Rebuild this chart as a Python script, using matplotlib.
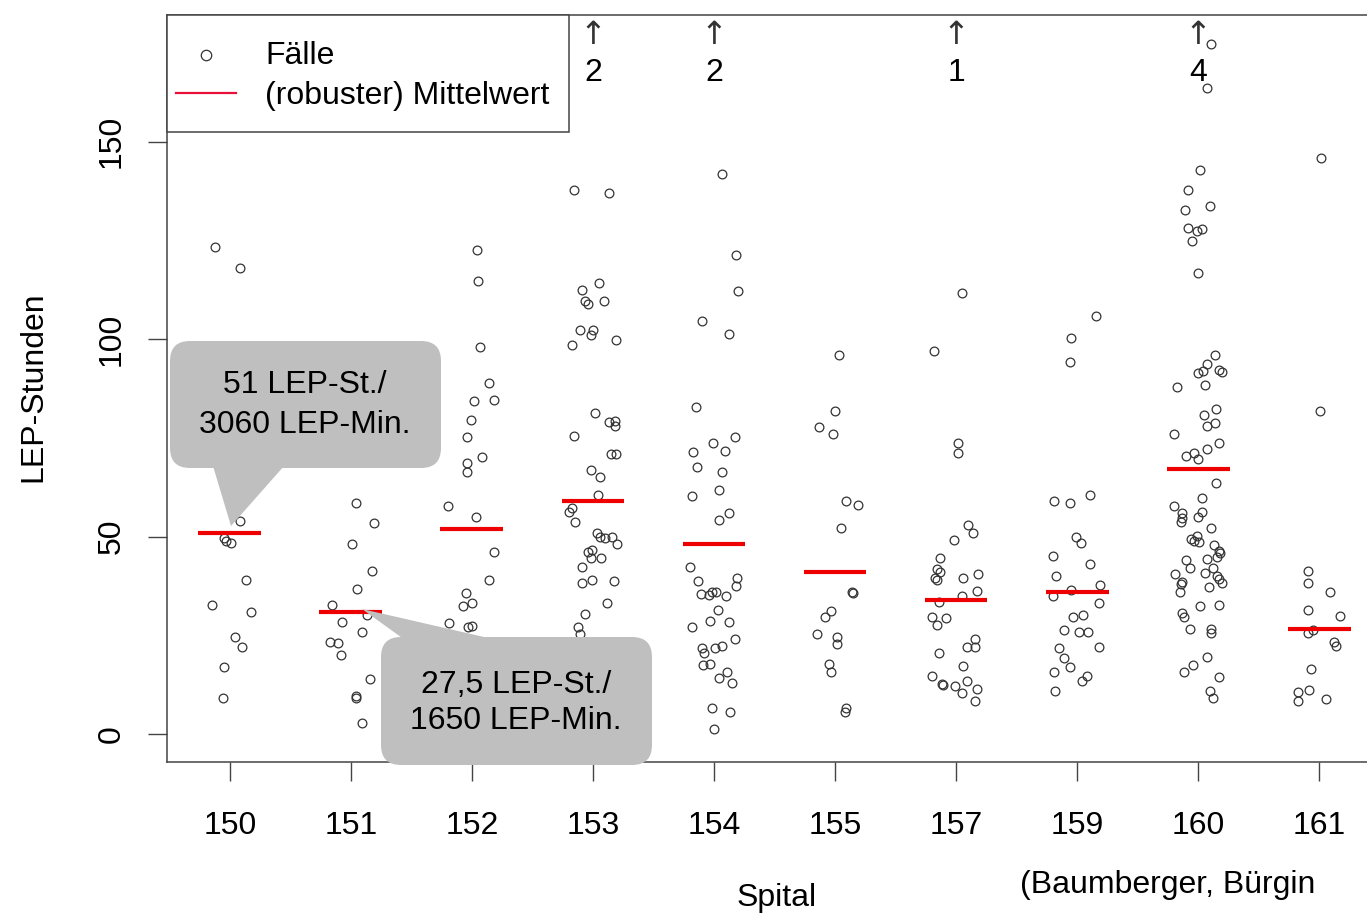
import matplotlib
matplotlib.use("Agg")
import matplotlib.pyplot as plt
from matplotlib.patches import FancyBboxPatch, Polygon, Rectangle

plt.rcParams['font.family'] = ['Liberation Sans', 'DejaVu Sans']

# Spitäler und robuste Mittelwerte
spitaeler = ['150', '151', '152', '153', '154', '155', '157', '159', '160', '161']
mittelwert = [51, 31, 52, 59, 48, 41, 34, 36, 67, 26.6]

# Fälle (LEP-Stunden) und Jitter je Spital
y150 = [123.3, 118.0, 54.0, 49.6, 49.0, 48.5, 39.1, 32.6, 30.8, 24.5, 22.1, 16.9, 9.0]
dx150 = [-0.12, 0.08, 0.08, -0.05, -0.03, 0.01, 0.13, -0.15, 0.17, 0.04, 0.10, -0.05, -0.06]
y151 = [58.5, 53.5, 48.0, 41.2, 36.7, 32.6, 30.1, 28.4, 25.8, 23.4, 23.0, 19.9, 14.0, 9.5, 9.2, 2.9]
dx151 = [0.04, 0.19, 0.01, 0.17, 0.05, -0.16, 0.13, -0.07, 0.09, -0.17, -0.11, -0.08, 0.16, 0.04, 0.04, 0.09]
y152 = [122.6, 114.8, 98.0, 89.0, 84.4, 84.7, 79.5, 75.2, 68.7, 70.1, 66.3, 57.7, 54.9, 46.2, 39.1,
        35.6, 32.5, 33.1, 28.2, 27.1, 27.3]
dx152 = [0.04, 0.05, 0.07, 0.14, 0.02, 0.18, -0.01, -0.04, -0.04, 0.08, -0.04, -0.20, 0.03, 0.18, 0.14,
         -0.05, -0.07, 0.00, -0.19, -0.03, 0.0]
y153 = [137.8, 136.9, 114.3, 112.5, 109.6, 108.8, 109.6, 102.4, 101.0, 102.4, 98.5, 99.8, 81.2, 78.9,
        79.3, 78.0, 75.4, 70.8, 70.8, 66.9, 65.2, 60.6, 57.2, 56.3, 53.8, 50.8, 50.0, 49.7, 49.8, 48.2,
        46.2, 46.6, 44.7, 44.7, 42.2, 38.3, 39.0, 38.8, 33.1, 30.5, 27.1, 25.4]
dx153 = [-0.16, 0.13, 0.05, -0.09, -0.07, -0.04, 0.09, -0.11, -0.02, 0.0, -0.17, 0.19, 0.02, 0.13,
         0.18, 0.18, -0.16, 0.15, 0.19, -0.02, 0.06, 0.04, -0.17, -0.20, -0.15, 0.03, 0.06, 0.10, 0.16, 0.20,
         -0.04, -0.01, -0.02, 0.07, -0.09, -0.09, -0.01, 0.17, 0.12, -0.07, -0.12, -0.11]
y154 = [141.8, 121.2, 112.1, 104.5, 101.4, 82.7, 73.6, 71.8, 75.1, 71.5, 67.5, 66.4, 61.9, 60.3, 56.0,
        54.3, 42.2, 38.7, 39.4, 37.5, 35.4, 35.3, 35.9, 35.9, 34.9, 31.3, 27.2, 28.6, 28.4, 24.1, 21.9,
        20.5, 21.9, 22.4, 17.5, 17.7, 15.8, 14.1, 13.0, 6.7, 5.5, 1.2]
dx154 = [0.07, 0.18, 0.20, -0.10, 0.12, -0.15, -0.01, 0.09, 0.17, -0.17, -0.14, 0.07, 0.04, -0.18, 0.12,
         0.04, -0.20, -0.13, 0.19, 0.18, -0.11, -0.04, -0.02, 0.02, 0.10, 0.03, -0.18, -0.03, 0.12, 0.17,
         -0.10, -0.08, 0.01, 0.07, -0.09, -0.03, 0.11, 0.04, 0.15, -0.02, 0.13, 0.00]
y155 = [96.1, 81.7, 77.7, 76.0, 59.1, 57.9, 52.1, 35.9, 35.6, 31.1, 29.6, 25.4, 24.6, 22.9, 17.7, 15.6, 6.7, 5.5]
dx155 = [0.03, 0.00, -0.13, -0.02, 0.09, 0.19, 0.05, 0.14, 0.15, -0.03, -0.08, -0.15, 0.02, 0.02, -0.05,
         -0.03, 0.09, 0.08]
y157 = [111.7, 97.0, 73.8, 71.1, 53.0, 50.8, 49.2, 44.7, 41.7, 41.1, 39.4, 39.0, 39.6, 40.6, 36.2, 35.0,
        33.5, 29.7, 29.5, 27.6, 24.1, 22.1, 22.1, 20.4, 17.3, 14.7, 12.7, 12.4, 12.2, 13.5, 10.3, 11.4, 8.4]
dx157 = [0.05, -0.18, 0.02, 0.02, 0.10, 0.14, -0.02, -0.13, -0.16, -0.13, -0.17, -0.16, 0.06, 0.18, 0.17,
         0.05, -0.14, -0.20, -0.08, -0.16, 0.16, 0.09, 0.16, -0.14, 0.06, -0.20, -0.12, -0.11, -0.01, 0.09,
         0.05, 0.17, 0.16]
y159 = [105.9, 100.2, 94.3, 59.1, 58.6, 60.6, 49.8, 48.3, 45.2, 43.1, 40.0, 37.8, 36.5, 35.0, 33.3, 29.7,
        30.1, 26.3, 25.9, 25.9, 22.1, 21.9, 19.3, 17.0, 15.6, 14.7, 13.3, 11.0]
dx159 = [0.16, -0.05, -0.06, -0.19, -0.06, 0.11, -0.01, 0.03, -0.20, 0.11, -0.17, 0.19, -0.05, -0.20,
         0.18, -0.03, 0.05, -0.11, 0.02, 0.09, 0.18, -0.15, -0.11, -0.06, -0.19, 0.08, 0.04, -0.18]
y160 = [174.7, 163.7, 142.9, 137.9, 132.7, 133.6, 128.2, 127.3, 127.8, 124.9, 116.8, 95.9, 93.8, 91.5,
        92.0, 92.2, 91.6, 87.9, 88.5, 80.9, 82.4, 78.0, 78.8, 76.1, 73.6, 72.1, 70.3, 71.1, 69.7, 63.5,
        59.7, 57.7, 56.2, 55.9, 54.8, 53.6, 55.0, 52.2, 49.3, 50.2, 48.6, 49.0, 47.8, 46.4, 44.9, 45.8,
        44.0, 44.3, 42.0, 40.5, 38.5, 38.1, 40.8, 42.0, 39.9, 39.3, 38.3, 37.2, 35.9, 32.5, 32.7, 30.6,
        29.6, 26.6, 26.6, 25.5, 19.4, 17.4, 15.6, 14.5, 10.9, 9.1]
dx160 = [0.11, 0.07, 0.02, -0.08, -0.11, 0.10, -0.08, -0.01, 0.03, -0.05, 0.00, 0.14, 0.07, 0.00,
         0.04, 0.17, 0.20, -0.17, 0.06, 0.05, 0.15, 0.07, 0.14, -0.20, 0.17, 0.07, -0.10, -0.03, 0.00, 0.15,
         0.03, -0.20, 0.03, -0.13, -0.13, -0.14, 0.00, 0.11, -0.06, -0.01, 0.01, -0.03, 0.13, 0.17, 0.16, 0.18,
         -0.10, 0.07, -0.07, -0.19, -0.13, -0.14, 0.06, 0.12, 0.16, 0.17, 0.20, 0.09, -0.15, 0.02, 0.17, -0.13,
         -0.12, -0.07, 0.11, 0.11, 0.07, -0.04, -0.12, 0.17, 0.10, 0.12]
y161 = [145.8, 81.8, 41.2, 38.3, 35.9, 31.4, 30.0, 25.5, 26.3, 23.4, 22.3, 16.4, 10.6, 8.3, 11.2, 8.9]
dx161 = [0.02, 0.01, -0.09, -0.09, 0.09, -0.09, 0.17, -0.09, -0.05, 0.12, 0.14, -0.07, -0.17, -0.17,
         -0.08, 0.06]

# Fälle ausserhalb der Skala (Pfeile oben)
ueber_idx = [3, 4, 6, 8]
ueber_n = ['2', '2', '1', '4']

faelle_y = [y150, y151, y152, y153, y154, y155, y157, y159, y160, y161]
faelle_dx = [dx150, dx151, dx152, dx153, dx154, dx155, dx157, dx159, dx160, dx161]

W, H = 1367, 915
fig = plt.figure(figsize=(W / 100, H / 100), dpi=100)
ax = fig.add_axes([167 / W, 1 - 762 / H, (1382 - 167) / W, (762 - 15) / H])

for i, (ys, dxs) in enumerate(zip(faelle_y, faelle_dx)):
    ax.plot([i + d for d in dxs], ys, 'o', mfc='none', mec='#333333', ms=6.3, mew=0.9, zorder=3)
    ax.plot([i - 0.26, i + 0.26], [mittelwert[i], mittelwert[i]], color='#ee0000', lw=3, zorder=4,
            solid_capstyle='butt')

for i, n in zip(ueber_idx, ueber_n):
    ax.text(i, 177.0, '\u2191', ha='center', va='center', fontsize=23, color='#333333',
            family='DejaVu Sans')
    ax.text(i, 167.3, n, ha='center', va='center', fontsize=23)

ax.set_xlim(-0.52, 9.52)
ax.set_ylim(-7.09, 182.1)
ax.set_xticks(range(len(spitaeler)))
ax.set_xticklabels(spitaeler, fontsize=23)
ax.set_yticks([0, 50, 100, 150])
ax.set_yticklabels(['0', '50', '100', '150'], fontsize=23, rotation=90, va='center')
ax.tick_params(axis='x', length=14, width=1, pad=21, color='#444444')
ax.tick_params(axis='y', length=14, width=1, pad=15, color='#444444')
for s in ax.spines.values():
    s.set_color('#444444')
    s.set_linewidth(1.1)

fig.text(777 / W, 1 - 898 / H, 'Spital', ha='center', va='center', fontsize=23)
fig.text(33 / W, 1 - 387 / H, 'LEP-Stunden', ha='center', va='center', rotation=90, fontsize=23)
fig.text(1020 / W, 1 - 885 / H, '(Baumberger, Bürgin', ha='left', va='center', fontsize=23)

# Overlay in Pixelkoordinaten für Legende und Sprechblasen
ov = fig.add_axes([0, 0, 1, 1], zorder=10)
ov.set_xlim(0, W)
ov.set_ylim(H, 0)
ov.axis('off')

# Legende (R-Stil)
ov.add_patch(Rectangle((167, 15), 402, 117, fc='white', ec='#444444', lw=1.1))
ov.plot([206], [55], 'o', mfc='none', mec='#333333', ms=7.5, mew=0.9)
ov.plot([176, 236], [93, 93], color='#e8103a', lw=1.6)
ov.text(265, 56, 'Fälle', ha='left', va='center', fontsize=23)
ov.text(265, 96, '(robuster) Mittelwert', ha='left', va='center', fontsize=23)

# Sprechblasen
grau = '#bfbfbf'
r = 20
for (x0, y0, x1, y1) in [(170, 341, 441, 468), (381, 637, 652, 765)]:
    ov.add_patch(FancyBboxPatch((x0 + r, y0 + r), x1 - x0 - 2 * r, y1 - y0 - 2 * r,
                                boxstyle=f'round,pad={r}', fc=grau, ec='none'))
ov.add_patch(Polygon([(213, 466), (284, 466), (231, 526)], closed=True, fc=grau, ec='none'))
ov.add_patch(Polygon([(362, 609), (497, 640), (405, 640)], closed=True, fc=grau, ec='none'))
ov.text(305, 405, '51 LEP-St./\n3060 LEP-Min.', ha='center', va='center', fontsize=23,
        linespacing=1.4)
ov.text(516, 703, '27,5 LEP-St./\n1650 LEP-Min.', ha='center', va='center', fontsize=23,
        linespacing=1.3)

fig.savefig('out.png', dpi=100)
